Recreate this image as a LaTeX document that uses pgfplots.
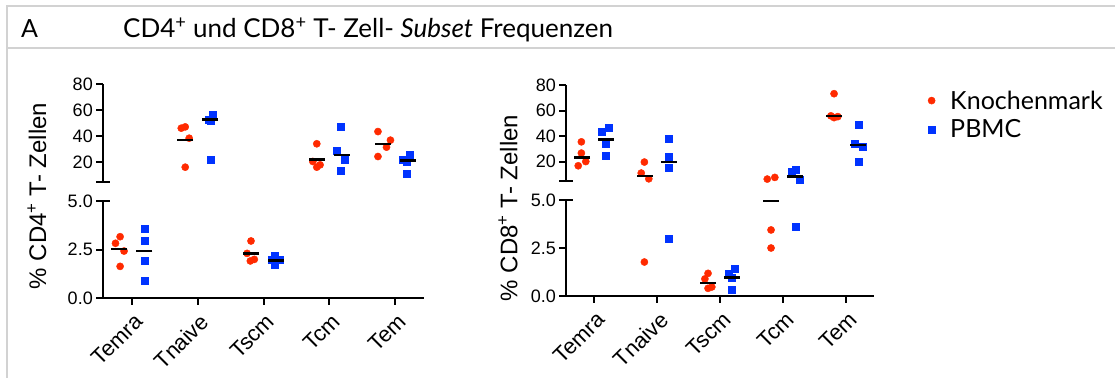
\documentclass[border=0pt]{standalone}
\usepackage{fontspec}
\setmainfont{Liberation Sans}
\newfontfamily\avenir{Lato}
\usepackage{pgfplots}
\pgfplotsset{compat=1.18}
\definecolor{kred}{HTML}{FF2A00}
\definecolor{pblue}{HTML}{0033FF}
\pgfplotsset{
  segbase/.style={scale only axis, clip=false, xmin=-0.44, xmax=4.44,
    axis line style={line width=2.2pt, -},
    every tick/.style={line width=2pt, black},
    tick align=outside, major tick length=6.7pt,
    tick label style={font=\fontsize{18}{20}\selectfont},
    /pgf/number format/assume math mode=true,
  },
  topseg/.style={segbase, hide x axis, axis y line*=left,
    ymin=5, ymax=80, ytick={20,40,60,80},
    extra y ticks={5}, extra y tick labels={},
    extra y tick style={tick align=center, major tick length=13.4pt}},
  botseg/.style={segbase, axis x line*=bottom, axis y line*=left,
    ymin=0, ymax=5, ytick={0,2.5}, yticklabels={0.0,2.5},
    extra y ticks={5}, extra y tick labels={5.0},
    extra y tick style={tick align=center, major tick length=13.4pt},
    xtick={0,1,2,3,4}, xticklabels={Temra,Tnaive,Tscm,Tcm,Tem},
    xticklabel style={rotate=45, anchor=north east, xshift=-1pt, yshift=-3pt, font=\fontsize{22}{24}\selectfont}},
  kpts/.style={only marks, mark=*, mark size=3.6pt, color=kred},
  ppts/.style={only marks, mark=square*, mark size=3.5pt, color=pblue},
  mline/.style={only marks, mark=-, mark size=8pt, color=black, mark options={line width=2.3pt}, forget plot},
}
\begin{document}
\begin{tikzpicture}[x=1pt,y=1pt]
\useasboundingbox (0,0) rectangle (1115,378);
% frame
\draw[gray!35, line width=2pt] (1115,372) -- (7,372) -- (7,0);
\draw[gray!35, line width=2pt] (7,330) -- (1115,330);
\node[anchor=base west, font=\avenir\fontsize{25}{28}\selectfont, inner sep=0pt] at (21,340) {A};
\node[anchor=base west, font=\avenir\fontsize{26}{28}\selectfont, inner sep=0pt] at (123,340) {CD4\textsuperscript{+} und CD8\textsuperscript{+} T- Zell- \textit{Subset} Frequenzen};

% ---------- Panel 1: CD4 ----------
\begin{axis}[topseg, at={(103pt,196pt)}, anchor=south west, width=321pt, height=97.5pt]
\addplot[kpts] coordinates {(0.75,46.4) (0.81,47.4) (0.87,38.7) (0.81,16.4)
  (2.81,34.4) (2.75,20.8) (2.86,18.2) (2.81,16.4)
  (3.74,43.8) (3.93,37.2) (3.87,31.8) (3.74,24.6)};
\addplot[ppts] coordinates {(1.23,56.7) (1.17,53.3) (1.19,52.1) (1.19,22.1)
  (3.18,47.4) (3.12,29.0) (3.24,22.1) (3.18,13.6)
  (4.23,25.9) (4.12,22.1) (4.18,20.3) (4.18,11.3)};
\addplot[mline] coordinates {(0.81,37.2) (2.81,22.3) (3.81,34.4)};
\addplot[mline] coordinates {(1.19,53.1) (3.19,25.6) (4.19,21.5)};
\end{axis}
\begin{axis}[botseg, at={(103pt,80pt)}, anchor=south west, width=321pt, height=97pt]
\addplot[kpts] coordinates {(-0.18,3.16) (-0.25,2.82) (-0.12,2.42) (-0.18,1.63)
  (1.81,2.94) (1.75,2.30) (1.80,1.91) (1.86,1.99)};
\addplot[ppts] coordinates {(0.19,3.59) (0.19,2.97) (0.19,1.91) (0.19,0.91)
  (2.17,2.16) (2.12,1.96) (2.25,1.96) (2.17,1.70)};
\addplot[mline] coordinates {(-0.19,2.51) (1.81,2.30)};
\addplot[mline] coordinates {(0.19,2.42) (2.19,1.94)};
\end{axis}
\node[rotate=90, font=\fontsize{24}{26}\selectfont] at (37,182) {\% CD4\textsuperscript{+} T- Zellen};

% ---------- Panel 2: CD8 ----------
\begin{axis}[topseg, at={(566pt,197pt)}, anchor=south west, width=308pt, height=96pt,
  xmin=-0.444, xmax=4.444,
  legend style={draw=none, fill=none, at={(1.165,0.985)}, anchor=north west,
    font=\avenir\fontsize{25}{28}\selectfont, legend cell align=left,
    row sep=5pt, /tikz/every odd column/.append style={column sep=13pt}}]
\addplot[kpts] coordinates {(-0.20,35.6) (-0.20,26.8) (-0.13,20.2) (-0.25,16.9)
  (0.80,19.8) (0.75,11.2) (0.87,6.7)
  (2.75,6.5) (2.87,7.8)
  (3.81,73.2) (3.76,55.9) (3.81,54.5) (3.87,55.3)};
\addlegendentry{Knochenmark}
\addplot[ppts] coordinates {(0.24,47.0) (0.12,43.9) (0.19,33.8) (0.19,24.9)
  (1.19,38.2) (1.19,23.7) (1.19,15.1)
  (3.14,12.0) (3.20,13.8) (3.26,6.0)
  (4.20,48.6) (4.13,33.8) (4.26,31.5) (4.20,19.8)};
\addlegendentry{PBMC}
\addplot[mline] coordinates {(-0.19,23.4) (0.81,9.1) (3.81,55.6)};
\addplot[mline] coordinates {(0.19,37.4) (1.19,20.0) (3.19,8.5) (4.19,33.2)};
\end{axis}
\begin{axis}[botseg, at={(566pt,82pt)}, anchor=south west, width=308pt, height=96pt,
  xmin=-0.444, xmax=4.444]
\addplot[kpts] coordinates {(0.80,1.77)
  (1.81,1.18) (1.76,0.89) (1.81,0.40) (1.87,0.47)
  (2.81,3.44) (2.81,2.50)};
\addplot[ppts] coordinates {(1.19,3.0)
  (2.24,1.44) (2.13,1.15) (2.19,0.97) (2.19,0.35)
  (3.20,3.63)};
\addplot[mline] coordinates {(1.81,0.68) (2.81,4.95)};
\addplot[mline] coordinates {(2.19,0.97)};
\end{axis}
\node[rotate=90, font=\fontsize{24}{26}\selectfont] at (508,170) {\% CD8\textsuperscript{+} T- Zellen};
\end{tikzpicture}
\end{document}
